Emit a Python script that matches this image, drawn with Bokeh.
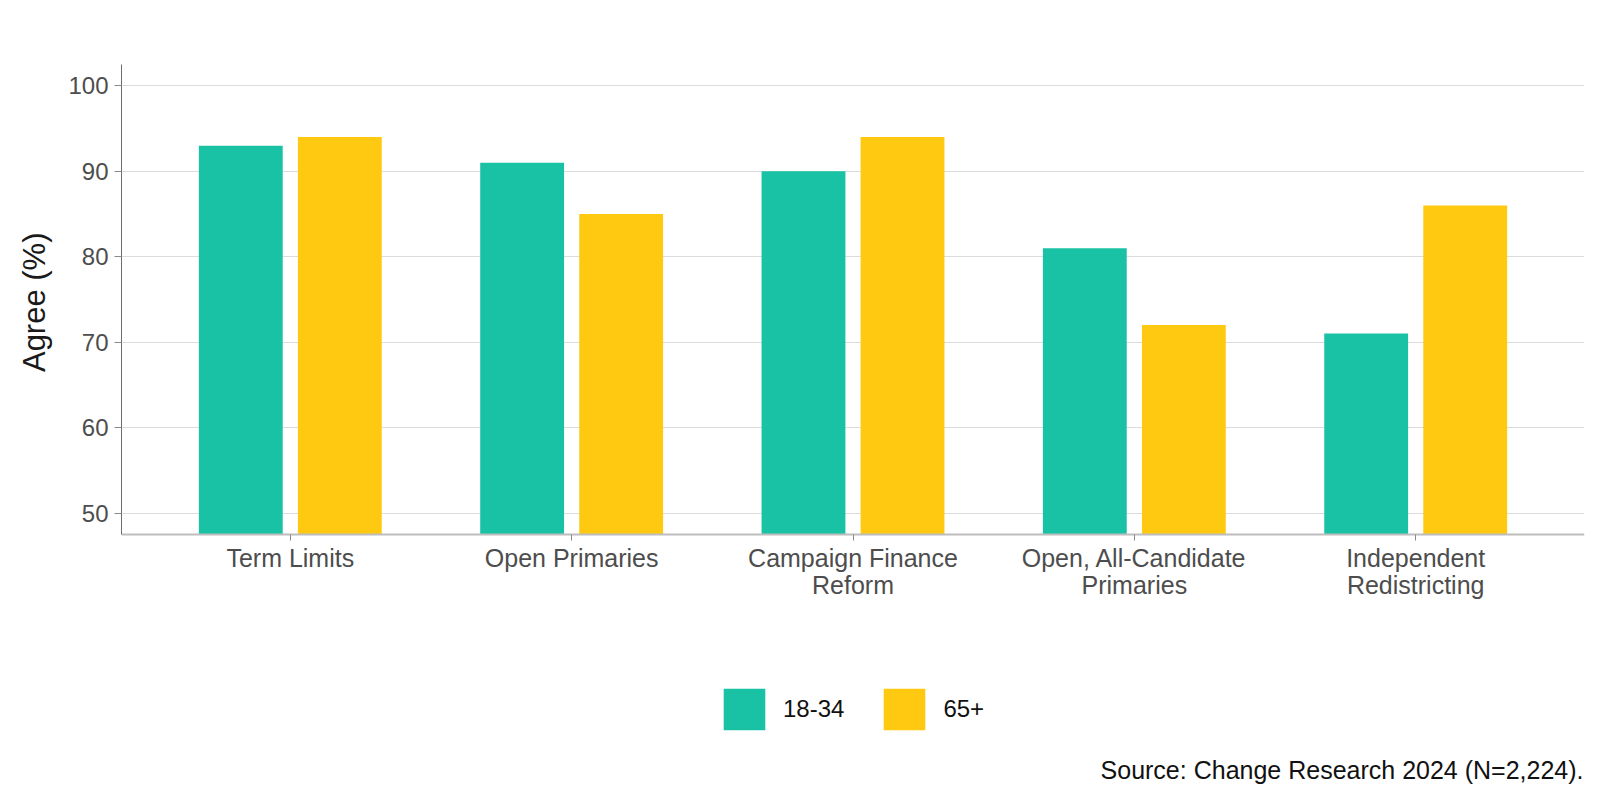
from bokeh.plotting import figure
from bokeh.models import ColumnDataSource, FactorRange, Range1d, FixedTicker, Legend, LegendItem, Label, Title
from bokeh.transform import dodge
from bokeh.embed import file_html
from bokeh.resources import INLINE

categories = ["Term Limits", "Open Primaries", "Campaign Finance\nReform",
              "Open, All-Candidate\nPrimaries", "Independent\nRedistricting"]
age_18_34 = [93, 91, 90, 81, 71]
age_65_plus = [94, 85, 94, 72, 86]
y_ticks = [50, 60, 70, 80, 90, 100]
series_labels = ["18-34", "65+"]
source_note = "Source: Change Research 2024 (N=2,224)."
y_label = "Agree (%)"

GREEN = "#19C2A4"
GOLD = "#FEC910"
FONT = "Liberation Sans"
AXIS_FLOOR = 47.5   # value where the x axis sits
AXIS_TOP = 102.5

src = ColumnDataSource(dict(cat=categories, young=age_18_34, old=age_65_plus))

# frame extends to the bottom so that legend and source note (below the axis) are not clipped
p = figure(width=1591, height=791, output_backend="svg", toolbar_location=None,
           x_range=FactorRange(factors=categories, range_padding=0.04),
           y_range=Range1d(17.4, AXIS_TOP),
           min_border_left=120, min_border_right=7, min_border_top=64, min_border_bottom=0)
p.outline_line_color = None
p.background_fill_color = "white"
p.border_fill_color = "white"

r1 = p.vbar(x=dodge("cat", -0.176, range=p.x_range), top="young", bottom=AXIS_FLOOR, width=0.298,
            source=src, fill_color=GREEN, line_color=None)
r2 = p.vbar(x=dodge("cat", 0.176, range=p.x_range), top="old", bottom=AXIS_FLOOR, width=0.298,
            source=src, fill_color=GOLD, line_color=None)

# grid
p.xgrid.grid_line_color = None
p.ygrid.grid_line_color = "#dcdcdc"
p.ygrid.grid_line_width = 1
p.yaxis.ticker = FixedTicker(ticks=y_ticks)

# y axis
p.yaxis.bounds = (AXIS_FLOOR, AXIS_TOP)
p.yaxis.major_label_text_font = FONT
p.yaxis.major_label_text_font_size = "24px"
p.yaxis.major_label_text_color = "#4d4d4d"
p.yaxis.major_label_standoff = 6
p.yaxis.axis_line_color = "#6e6e6e"
p.yaxis.axis_line_width = 1
p.yaxis.major_tick_line_color = "#8a8a8a"
p.yaxis.major_tick_out = 7
p.yaxis.major_tick_in = 0
p.yaxis.minor_tick_line_color = None

# y axis title, centred on the visible part of the axis
ytitle = Title(text=y_label, align="right", offset=168, standoff=28, text_font=FONT,
               text_font_size="31px", text_font_style="normal", text_color="#1a1a1a")
p.add_layout(ytitle, "left")

# x axis, placed at the floor value
p.xaxis.fixed_location = AXIS_FLOOR
p.xaxis.major_label_text_font = FONT
p.xaxis.major_label_text_font_size = "25px"
p.xaxis.major_label_text_color = "#4d4d4d"
p.xaxis.major_label_text_line_height = 0.94
p.xaxis.major_label_standoff = 4
p.xaxis.axis_line_color = "#bdbdbd"
p.xaxis.axis_line_width = 2
p.xaxis.major_tick_line_color = "#8a8a8a"
p.xaxis.major_tick_out = 6
p.xaxis.major_tick_in = 0
p.xaxis.minor_tick_line_color = None

legend = Legend(items=[LegendItem(label=series_labels[0], renderers=[r1]),
                       LegendItem(label=series_labels[1], renderers=[r2])],
                orientation="horizontal", location=(597, 56),
                glyph_width=52, glyph_height=52, label_standoff=13, spacing=34,
                padding=0, margin=0, border_line_color=None, background_fill_alpha=0,
                label_text_font=FONT, label_text_font_size="24px", label_text_color="#111111")
p.add_layout(legend, "center")

note = Label(x=1462, y=22, x_units="screen", y_units="screen", text=source_note,
             text_align="right", text_baseline="alphabetic", text_font=FONT,
             text_font_size="25px", text_color="#111111")
p.add_layout(note)

open("out.html", "w").write(file_html(p, INLINE))
